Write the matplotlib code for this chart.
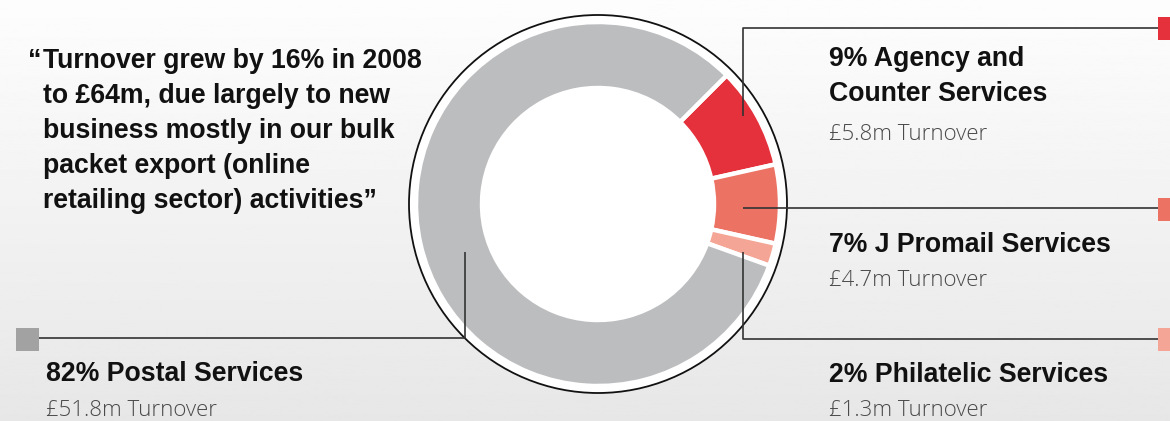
import numpy as np
import matplotlib
matplotlib.use('Agg')
import matplotlib.pyplot as plt
from matplotlib.patches import Circle, Rectangle

# segment data (clockwise from the top-right)
segments = ['Agency and\nCounter Services', 'J Promail Services', 'Philatelic Services', 'Postal Services']
shares = [9, 7, 2, 82]
turnover = [5.8, 4.7, 1.3, 51.8]
colors = ['#e4313b', '#ec7264', '#f4a595', '#bcbdbf']
key_colors = ['#e4313b', '#ec7264', '#f4a595', '#a2a2a2']

quote = ("Turnover grew by 16% in 2008\nto £64m, due largely to new\n"
         "business mostly in our bulk\npacket export (online\nretailing sector) activities\u201d")

W, H = 1170, 421
BOLD = dict(family='Liberation Sans', fontweight='bold', color='#111111')
LIGHT = dict(family='Open Sans', fontweight='light', color='#4a4a4a')

fig = plt.figure(figsize=(W / 100, H / 100), dpi=100)
ax = fig.add_axes([0, 0, 1, 1])

# background gradient, light at the top
grad = np.linspace(0.992, 0.905, 256).reshape(-1, 1)
ax.imshow(grad, extent=[0, W, H, 0], cmap='gray', vmin=0, vmax=1, aspect='auto', zorder=0)

cx, cy = 598, 204
ax.add_patch(Circle((cx, cy), 189, facecolor='white', edgecolor='#111111', lw=1.3, zorder=1))

# y axis is inverted below, so angles are mirrored
ax.pie(shares, colors=colors, startangle=-45, counterclock=True, center=(cx, cy), radius=182,
       wedgeprops=dict(width=66, edgecolor='white', linewidth=3.2, zorder=2))

# leader lines
lc = dict(color='#333333', lw=1.2, zorder=3, solid_capstyle='butt')
ax.plot([743, 743, 1160], [116, 28, 28], **lc)
ax.plot([743, 1160], [208, 208], **lc)
ax.plot([743, 743, 1160], [252, 339, 339], **lc)
ax.plot([465, 465, 38], [252, 338, 338], **lc)

# colour keys
sq = 23
for (x, y), c in zip([(1158, 28), (1158, 209), (1158, 339), (16, 339)], key_colors):
    ax.add_patch(Rectangle((x, y - sq / 2), sq, sq, facecolor=c, edgecolor='none', zorder=4))

# labels
label_pos = [(829, 57), (829, 245), (829, 375), (46, 374)]
sub_pos = [(829, 135), (829, 280), (829, 410), (46, 411)]
for i, name in enumerate(segments):
    x, y = label_pos[i]
    txt = f"{shares[i]}% {name}"
    va = 'top' if '\n' in txt else 'center'
    ax.text(x, y - 11 if va == 'top' else y, txt, va=va, ha='left', fontsize=19.2,
            linespacing=1.47, **BOLD)
    sx, sy = sub_pos[i]
    ax.text(sx, sy, f"£{turnover[i]}m Turnover", va='center', ha='left', fontsize=16, **LIGHT)

ax.text(41, 48, "\u201c", va='top', ha='right', fontsize=19.2, **BOLD)
ax.text(43, 48, quote, va='top', ha='left', fontsize=19.2, linespacing=1.45, **BOLD)

ax.set_xlim(0, W)
ax.set_ylim(H, 0)
ax.axis('off')

fig.savefig('out.png', dpi=100)
